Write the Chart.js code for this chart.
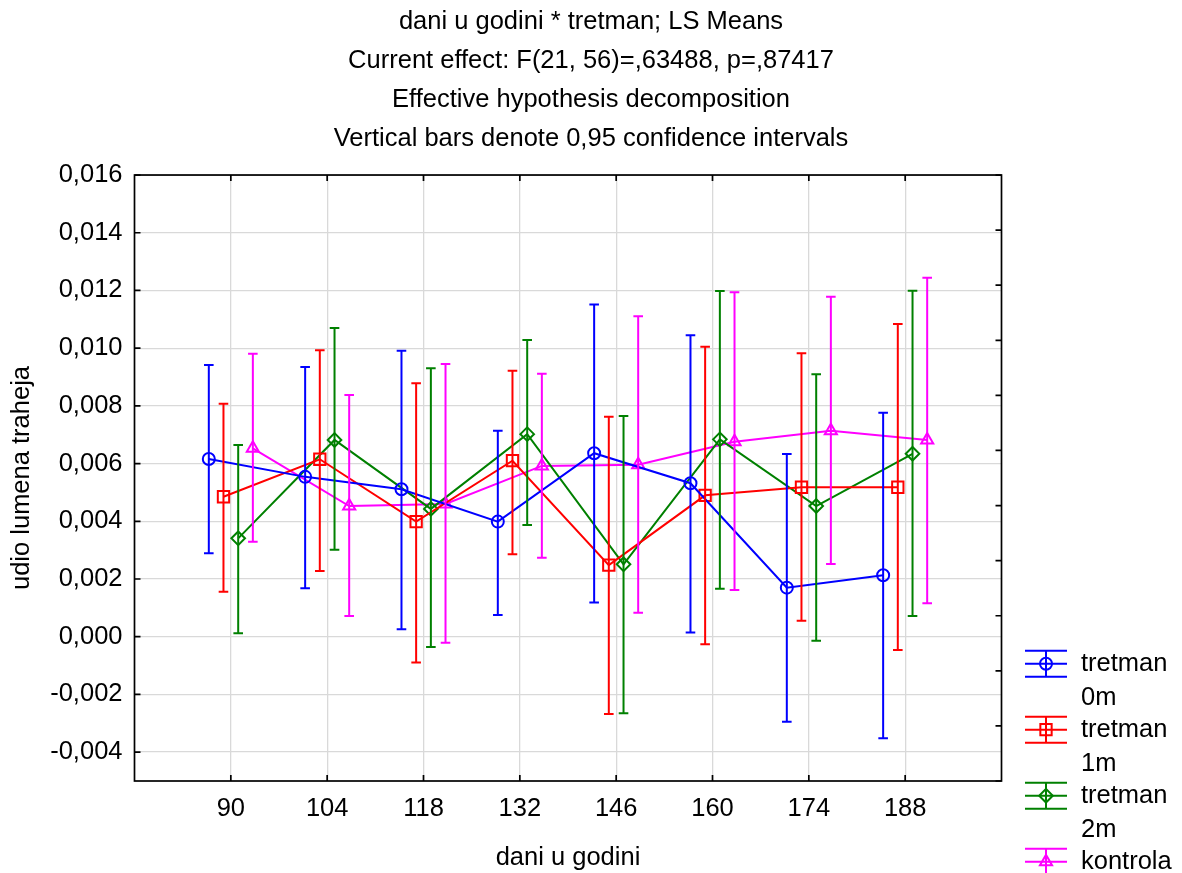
<!DOCTYPE html>
<html>
<head>
<meta charset="utf-8">
<script src="https://cdn.jsdelivr.net/npm/chart.js@4.4.1/dist/chart.umd.min.js"></script>
<style>
  html, body { margin: 0; padding: 0; background: #fff; }
</style>
</head>
<body>
<canvas id="lsCanvas" width="1182" height="873"></canvas>
<script>
// dani u godini (categories)
var days = [90, 104, 118, 132, 146, 160, 174, 188];
var yTicks = [-0.004, -0.002, 0, 0.002, 0.004, 0.006, 0.008, 0.010, 0.012, 0.014, 0.016];
var names = ["tretman 0m", "tretman 1m", "tretman 2m", "kontrola"];

// LS means and 0,95 confidence limits
var mean0 = [0.00616, 0.00554, 0.00511, 0.00399, 0.00636, 0.00532, 0.00170, 0.00213];
var lo0 = [0.00289, 0.00168, 0.00026, 0.00075, 0.00119, 0.00015, -0.00295, -0.00352];
var hi0 = [0.00942, 0.00935, 0.00991, 0.00714, 0.01151, 0.01045, 0.00633, 0.00776];

var mean1 = [0.00485, 0.00615, 0.00399, 0.00610, 0.00248, 0.00490, 0.00518, 0.00518];
var lo1 = [0.00156, 0.00228, -0.00089, 0.00286, -0.00268, -0.00026, 0.00055, -0.00046];
var hi1 = [0.00807, 0.00993, 0.00878, 0.00922, 0.00762, 0.01005, 0.00982, 0.01084];

var mean2 = [0.00341, 0.00682, 0.00443, 0.00702, 0.00251, 0.00684, 0.00453, 0.00634];
var lo2 = [0.00012, 0.00301, -0.00036, 0.00387, -0.00265, 0.00166, -0.00014, 0.00072];
var hi2 = [0.00664, 0.01070, 0.00930, 0.01028, 0.00765, 0.01198, 0.00910, 0.01199];

var mean3 = [0.00653, 0.00453, 0.00460, 0.00592, 0.00596, 0.00676, 0.00714, 0.00682];
var lo3 = [0.00329, 0.00072, -0.00021, 0.00274, 0.00083, 0.00162, 0.00252, 0.00116];
var hi3 = [0.00981, 0.00838, 0.00945, 0.00911, 0.01111, 0.01194, 0.01178, 0.01244];

var FONT = "Liberation Sans, Arial, sans-serif";
var LW = 2;
var series = [
  { mean: mean0, lo: lo0, hi: hi0, color: "#0000ff", style: "circle", r: 6, shift: -3.2 },
  { mean: mean1, lo: lo1, hi: hi1, color: "#ff0000", style: "rect", r: 8, shift: -1.07 },
  { mean: mean2, lo: lo2, hi: hi2, color: "#008000", style: "rectRot", r: 6.8, shift: 1.07 },
  { mean: mean3, lo: lo3, hi: hi3, color: "#ff00ff", style: "triangle", r: 7, shift: 3.2 }
];

var datasets = series.map(function (s, k) {
  return {
    label: names[k],
    data: days.map(function (d, i) { return { x: d + s.shift, y: s.mean[i] }; }),
    borderColor: s.color,
    backgroundColor: "rgba(0,0,0,0)",
    borderWidth: LW,
    pointStyle: s.style,
    pointRadius: s.r,
    pointHoverRadius: s.r,
    pointBorderWidth: LW,
    pointBorderColor: s.color,
    pointBackgroundColor: "rgba(0,0,0,0)",
    tension: 0
  };
});

// error bars, frame, tick marks and legend
var extras = {
  id: "extras",
  afterDatasetsDraw: function (chart) {
    var ctx = chart.ctx, xs = chart.scales.x, ys = chart.scales.y;
    ctx.save();
    series.forEach(function (s) {
      ctx.strokeStyle = s.color;
      ctx.lineWidth = LW;
      days.forEach(function (d, i) {
        var x = xs.getPixelForValue(d + s.shift);
        var yh = ys.getPixelForValue(s.hi[i]);
        var yl = ys.getPixelForValue(s.lo[i]);
        ctx.beginPath();
        ctx.moveTo(x, yh); ctx.lineTo(x, yl);
        ctx.moveTo(x - 4.8, yh); ctx.lineTo(x + 4.8, yh);
        ctx.moveTo(x - 4.8, yl); ctx.lineTo(x + 4.8, yl);
        ctx.stroke();
      });
    });
    ctx.restore();
  },
  afterDraw: function (chart) {
    var ctx = chart.ctx, a = chart.chartArea, xs = chart.scales.x, ys = chart.scales.y;
    ctx.save();
    ctx.strokeStyle = "#000";
    ctx.lineWidth = 1.7;
    ctx.strokeRect(a.left, a.top, a.right - a.left, a.bottom - a.top);
    ctx.beginPath();
    days.forEach(function (d) {
      var x = xs.getPixelForValue(d);
      ctx.moveTo(x, a.top); ctx.lineTo(x, a.top + 6);
      ctx.moveTo(x, a.bottom); ctx.lineTo(x, a.bottom - 6);
    });
    yTicks.forEach(function (v) {
      var y = ys.getPixelForValue(v);
      ctx.moveTo(a.left, y); ctx.lineTo(a.left + 6, y);
    });
    for (var k = 0; k <= 11; k++) {
      var y = a.top + k * (a.bottom - a.top) / 11;
      ctx.moveTo(a.right, y); ctx.lineTo(a.right - 6, y);
    }
    ctx.stroke();

    // legend
    var lx = a.right + 23.5, ly = 663.7;
    ctx.font = "25.5px " + FONT;
    ctx.textBaseline = "middle";
    ctx.textAlign = "left";
    series.forEach(function (s, k) {
      var y = ly + k * 66;
      var cx = lx + 21;
      ctx.strokeStyle = s.color;
      ctx.lineWidth = LW;
      ctx.beginPath();
      ctx.moveTo(lx, y - 13); ctx.lineTo(lx + 42, y - 13);
      ctx.moveTo(lx, y); ctx.lineTo(lx + 42, y);
      ctx.moveTo(lx, y + 13); ctx.lineTo(lx + 42, y + 13);
      ctx.moveTo(cx, y - 13); ctx.lineTo(cx, y + 13);
      ctx.stroke();
      ctx.fillStyle = "rgba(0,0,0,0)";
      Chart.helpers.drawPoint(ctx, { pointStyle: s.style, radius: s.r, borderWidth: LW, rotation: 0 }, cx, y);
      ctx.fillStyle = "#000";
      names[k].split(" ").forEach(function (line, j) {
        ctx.fillText(line, lx + 56, y + j * 34.5);
      });
    });
    ctx.restore();
  }
};

new Chart(document.getElementById("lsCanvas").getContext("2d"), {
  type: "line",
  data: { datasets: datasets },
  options: {
    responsive: false,
    animation: false,
    events: [],
    layout: { padding: 0 },
    plugins: {
      legend: { display: false },
      tooltip: { enabled: false },
      title: {
        display: true,
        text: [
          "dani u godini * tretman; LS Means",
          "Current effect: F(21, 56)=,63488, p=,87417",
          "Effective hypothesis decomposition",
          "Vertical bars denote 0,95 confidence intervals"
        ],
        color: "#000",
        font: { family: FONT, size: 25.5, weight: "normal", lineHeight: 1.518 },
        padding: { top: 3, bottom: 17.2 }
      }
    },
    scales: {
      x: {
        type: "linear",
        min: 76,
        max: 202,
        afterBuildTicks: function (s) { s.ticks = days.map(function (d) { return { value: d }; }); },
        afterFit: function (s) { s.height = 92; },
        grid: { color: "#d9d9d9", lineWidth: 1.3, drawTicks: false },
        border: { display: false },
        ticks: {
          color: "#000",
          padding: 13,
          maxRotation: 0,
          autoSkip: false,
          font: { family: FONT, size: 25.5 },
          callback: function (v) { return String(v); }
        },
        title: {
          display: true,
          text: "dani u godini",
          color: "#000",
          font: { family: FONT, size: 25.5 },
          padding: { top: 0, bottom: 0 }
        }
      },
      y: {
        type: "linear",
        min: -0.005,
        max: 0.016,
        afterBuildTicks: function (s) { s.ticks = yTicks.map(function (v) { return { value: v }; }); },
        afterFit: function (s) { s.width = 134.5; },
        grid: { color: "#d9d9d9", lineWidth: 1.3, drawTicks: false },
        border: { display: false },
        ticks: {
          color: "#000",
          padding: 12,
          font: { family: FONT, size: 25.5 },
          callback: function (v) { return v.toFixed(3).replace(".", ","); }
        },
        title: {
          display: true,
          text: "udio lumena traheja",
          color: "#000",
          font: { family: FONT, size: 25.5 },
          padding: { top: 7, bottom: 0 }
        }
      },
      yR: {
        type: "linear",
        position: "right",
        min: 0,
        max: 11,
        afterFit: function (s) { s.width = 180.5; },
        grid: { display: false },
        border: { display: false },
        ticks: { display: false }
      }
    }
  },
  plugins: [extras]
});
</script>
</body>
</html>
